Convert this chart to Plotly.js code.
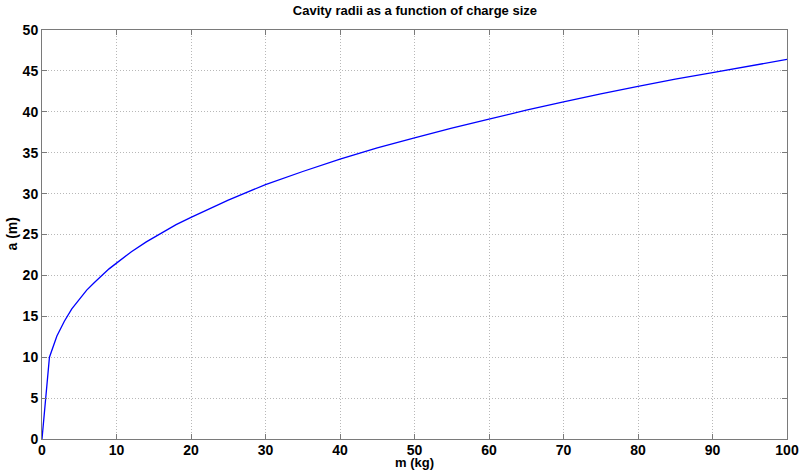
<!DOCTYPE html>
<html><head><meta charset="utf-8">
<script src="https://cdn.plot.ly/plotly-3.0.1.min.js"></script>
<style>html,body{margin:0;padding:0;background:#fff}#plot{width:801px;height:471px}</style>
</head><body><div id="plot"></div>
<script>
const chargeMass = [0,1,2,3,4,5,6,7,8,9,10,12,14,16,18,20,25,30,35,40,45,50,55,60,65,70,75,80,85,90,95,100];
const cavityRadius = [0,10,12.6,14.4,15.9,17.1,18.2,19.1,20,20.8,21.5,22.9,24.1,25.2,26.2,27.1,29.2,31.1,32.7,34.2,35.6,36.8,38.0,39.1,40.2,41.2,42.2,43.1,44.0,44.8,45.6,46.4];
const chartTitle = 'Cavity radii as a function of charge size';
const xLabel = 'm (kg)';
const yLabel = 'a (m)';

const fontFam = '"Liberation Sans", Arial, Helvetica, sans-serif';
const axisCommon = {
  showgrid: true, gridcolor: '#b8b8b8', griddash: '1px,2px', gridwidth: 1,
  showline: true, linecolor: '#7a7a7a', linewidth: 1, mirror: 'ticks',
  ticks: 'inside', ticklen: 5, tickcolor: '#7a7a7a', zeroline: false,
  tickfont: {family: fontFam, size: 14, color: '#000', weight: 'bold'}
};
const titleFont = {family: fontFam, size: 13, color: '#000', weight: 'bold'};
Plotly.newPlot('plot', [{
  x: chargeMass, y: cavityRadius, type: 'scatter', mode: 'lines',
  line: {color: '#0000ff', width: 1.3}
}], {
  width: 801, height: 471,
  margin: {l: 42, r: 14, t: 30, b: 32},
  paper_bgcolor: '#fff', plot_bgcolor: '#fff',
  showlegend: false,
  title: {text: chartTitle, font: {family: fontFam, size: 13, color: '#000', weight: 'bold'}, x: 0.518, xanchor: 'center', y: 0.978, yanchor: 'middle'},
  xaxis: Object.assign({}, axisCommon, {range: [0, 100], dtick: 10, tick0: 0, ticklabelstandoff: -2}),
  yaxis: Object.assign({}, axisCommon, {range: [0, 50], dtick: 5, tick0: 0}),
  annotations: [
    {text: xLabel, xref: 'paper', yref: 'paper', x: 0.5, y: 0, xanchor: 'center', yanchor: 'bottom', yshift: -32, borderpad: 0, showarrow: false, font: titleFont},
    {text: yLabel, xref: 'paper', yref: 'paper', x: 0, y: 0.5, xanchor: 'right', yanchor: 'middle', xshift: -22, borderpad: 0, textangle: -90, showarrow: false, font: {family: fontFam, size: 14, color: '#000', weight: 'bold'}}
  ]
}, {displayModeBar: false, staticPlot: true});
</script></body></html>
